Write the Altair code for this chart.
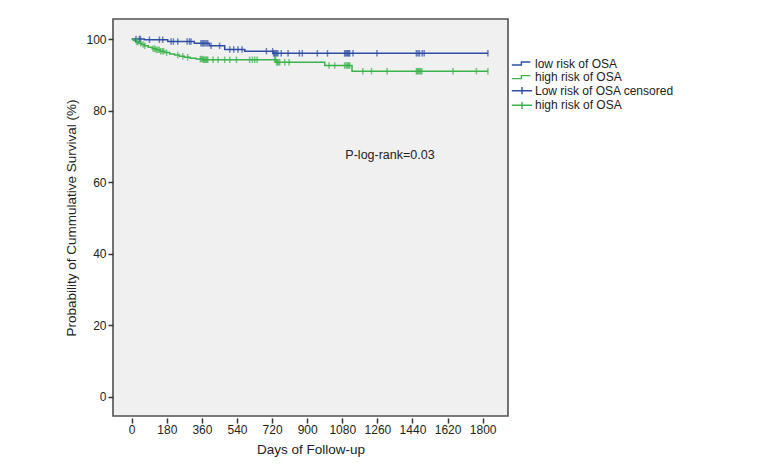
import altair as alt
import pandas as pd

# ---- data (Kaplan-Meier step points) ----
low_days = [0, 65, 185, 321, 398, 477, 580, 725, 1827]
low_surv = [100, 99.8, 99.3, 98.8, 98.1, 97.1, 96.6, 96.0, 96.0]

high_days = [0, 8, 20, 35, 50, 65, 85, 105, 125, 145, 170, 195, 220, 245,
             270, 300, 330, 365, 740, 990, 1130, 1827]
high_surv = [100, 99.6, 99.2, 98.8, 98.5, 98.1, 97.7, 97.3, 97.0, 96.6, 96.2,
             95.8, 95.5, 95.2, 94.9, 94.6, 94.4, 94.2, 93.5, 92.6, 91.0, 91.0]

low_censor = [22, 39, 45, 91, 142, 159, 202, 214, 236, 284, 296, 304, 355, 362,
              368, 375, 382, 390, 407, 451, 503, 523, 545, 566, 691, 723, 728,
              733, 738, 744, 750, 767, 802, 860, 875, 952, 1004, 1092, 1097,
              1103, 1108, 1113, 1118, 1135, 1258, 1460, 1468, 1476, 1490, 1500,
              1827]
high_censor = [25, 31, 46, 58, 67, 110, 118, 125, 133, 141, 149, 157, 164, 179,
               236, 262, 287, 352, 358, 364, 369, 374, 380, 385, 390, 417, 443,
               477, 503, 537, 605, 619, 631, 643, 733, 738, 743, 748, 753, 759,
               785, 807, 1012, 1041, 1092, 1100, 1106, 1112, 1118, 1185, 1230,
               1310, 1460, 1465, 1470, 1476, 1482, 1488, 1648, 1768, 1827]

x_ticks = [0, 180, 360, 540, 720, 900, 1080, 1260, 1440, 1620, 1800]
y_ticks = [0, 20, 40, 60, 80, 100]

legend_keys = ["low risk of OSA", "high risk of OSA",
               "Low risk of OSA censored", "high risk of OSA "]
annotation = ["P-log-rank=0.03"]

BLUE = "#2f4ea3"
GREEN = "#3bb24b"
FONT = "Liberation Sans"


def step_value(days, surv, t):
    v = surv[0]
    for d, s in zip(days, surv):
        if d <= t:
            v = s
    return v


low_df = pd.DataFrame({"day": low_days, "surv": low_surv})
high_df = pd.DataFrame({"day": high_days, "surv": high_surv})
low_c = pd.DataFrame({"day": low_censor,
                      "surv": [step_value(low_days, low_surv, t) for t in low_censor]})
high_c = pd.DataFrame({"day": high_censor,
                       "surv": [step_value(high_days, high_surv, t) for t in high_censor]})
leg_df = pd.DataFrame({"key": legend_keys,
                       "day": [low_days[0]] * 4,
                       "surv": [low_surv[0]] * 4})
ann_df = pd.DataFrame({"label": annotation})

xs = alt.Scale(domain=[-96, 1930], nice=False, zero=False)
ys = alt.Scale(domain=[-5.4, 105.6], nice=False, zero=False)

x_enc = alt.X("day:Q", scale=xs, title="Days of Follow-up",
              axis=alt.Axis(values=x_ticks, format="d", grid=False, domain=False,
                            tickSize=5, tickWidth=1.5, tickColor="#333", offset=2,
                            labelPadding=1, labelFontSize=12, labelFont=FONT,
                            labelColor="#222", titleFont=FONT, titleFontSize=13.5,
                            titleFontWeight="normal", titleColor="#222",
                            titlePadding=7))
y_enc = alt.Y("surv:Q", scale=ys, title="Probability of Cummulative Survival (%)",
              axis=alt.Axis(values=y_ticks, format="d", grid=False, domain=False,
                            tickSize=5, tickWidth=1.5, tickColor="#333",
                            labelPadding=2, labelFontSize=12, labelFont=FONT,
                            labelColor="#222", titleFont=FONT, titleFontSize=13.5,
                            titleFontWeight="normal", titleColor="#222",
                            titlePadding=7))

line_low = alt.Chart(low_df).mark_line(interpolate="step-after", color=BLUE,
                                       strokeWidth=1.5).encode(x=x_enc, y=y_enc)
line_high = alt.Chart(high_df).mark_line(interpolate="step-after", color=GREEN,
                                         strokeWidth=1.5).encode(x=x_enc, y=y_enc)
tick_low = alt.Chart(low_c).mark_tick(orient="vertical", color=BLUE, size=6.5,
                                      thickness=1.5).encode(x=x_enc, y=y_enc)
tick_high = alt.Chart(high_c).mark_tick(orient="vertical", color=GREEN, size=6.5,
                                        thickness=1.5).encode(x=x_enc, y=y_enc)

step_path = "M-1.7,0.25 L-0.1,0.25 L-0.1,-0.25 L1.4,-0.25"
cross_path = "M-1.7,0 L1.7,0 M0,-0.6 L0,0.6"
leg = alt.Legend(title=None, orient="none", legendX=402, legendY=37.5,
                 symbolSize=144, symbolStrokeWidth=1.4, symbolOpacity=1,
                 labelFont=FONT, labelFontSize=12, labelColor="#222",
                 labelOffset=6, rowPadding=0.6, padding=0)
legend_layer = alt.Chart(leg_df).mark_point(filled=False, opacity=0).encode(
    x=x_enc, y=y_enc,
    color=alt.Color("key:N", scale=alt.Scale(domain=legend_keys,
                                             range=[BLUE, GREEN, BLUE, GREEN]),
                    legend=leg),
    shape=alt.Shape("key:N", scale=alt.Scale(domain=legend_keys,
                                             range=[step_path, step_path,
                                                    cross_path, cross_path]),
                    legend=leg),
)

text = alt.Chart(ann_df).mark_text(font=FONT, fontSize=12.5, color="#222",
                                   align="center", baseline="middle").encode(
    x=alt.value(277), y=alt.value(136), text="label:N")

chart = alt.layer(line_low, line_high, tick_low, tick_high, legend_layer, text).properties(
    width=395, height=397,
    autosize=alt.AutoSizeParams(type="none"),
    padding={"left": 105, "top": 11, "right": 255, "bottom": 49},
    background="white",
).configure_view(fill="#f0f0f0", stroke="#505050", strokeWidth=1.6)

chart.save("out.html", embed_options={"renderer": "svg", "actions": False})
